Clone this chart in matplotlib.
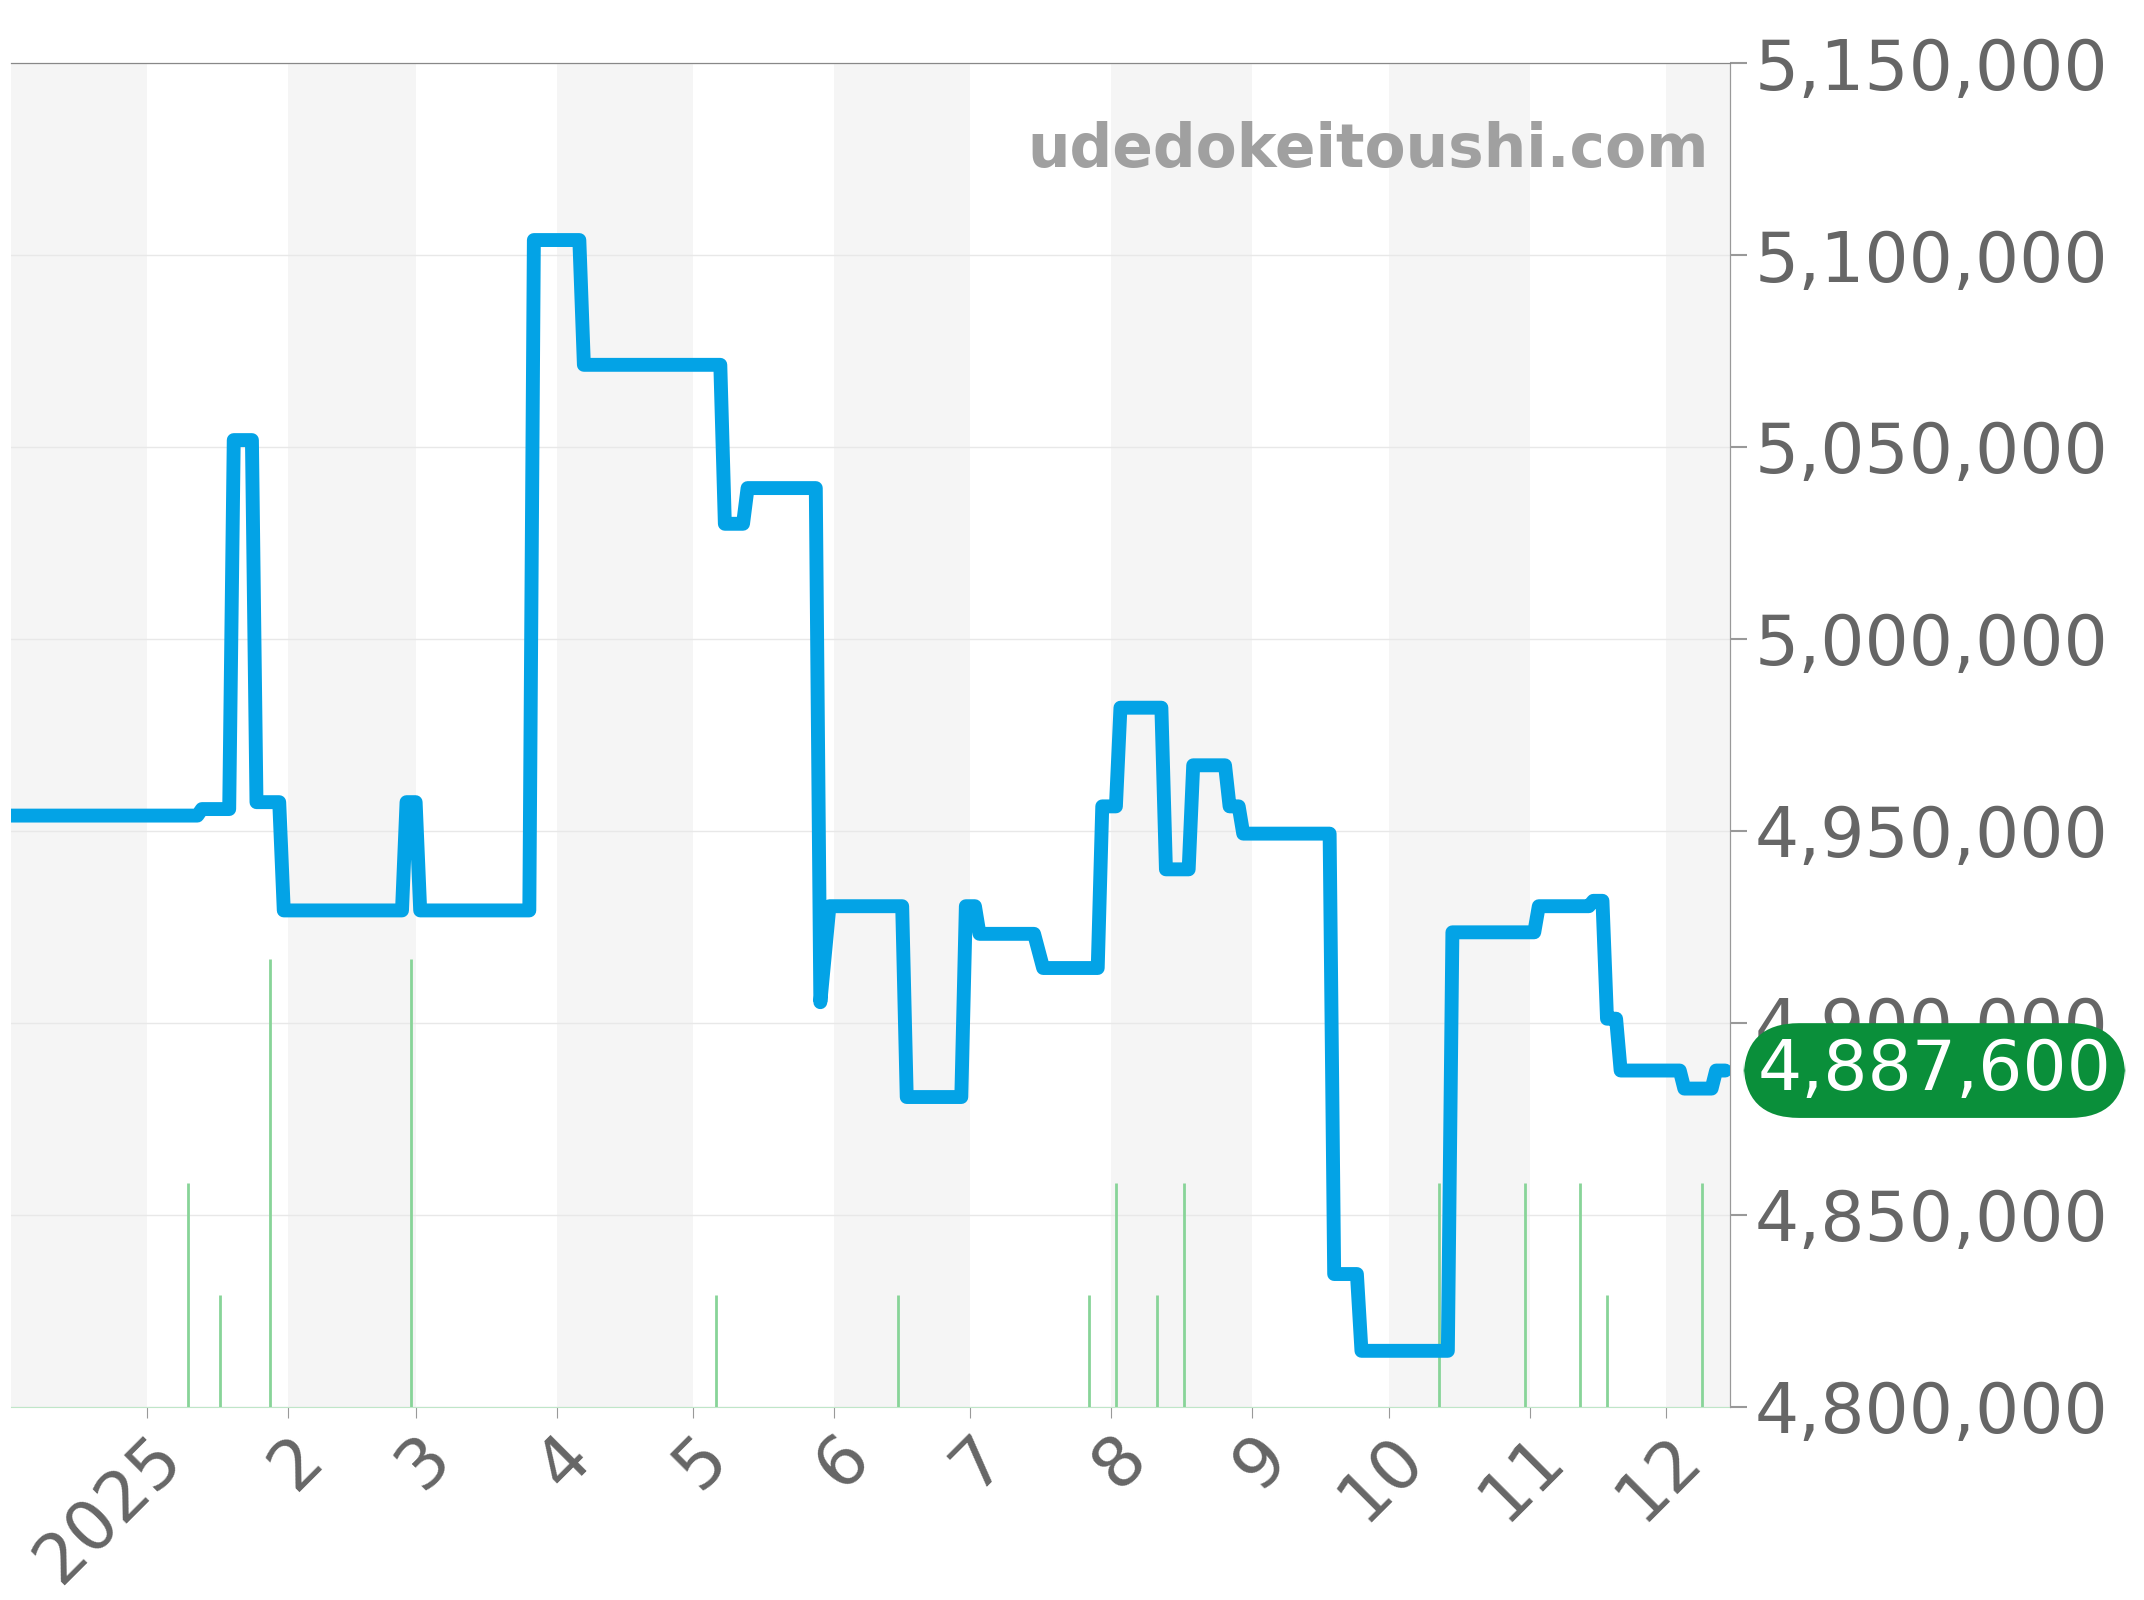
import matplotlib
matplotlib.use("Agg")
import matplotlib.pyplot as plt
import pandas as pd

dates = ["2024-12-02","2025-01-12","2025-01-13","2025-01-19","2025-01-20","2025-01-24","2025-01-25","2025-01-30",
 "2025-01-31","2025-02-26","2025-02-27","2025-03-01","2025-03-02","2025-03-26","2025-03-27","2025-04-06","2025-04-07",
 "2025-05-07","2025-05-08","2025-05-12","2025-05-13","2025-05-28","2025-05-29","2025-05-31","2025-06-16","2025-06-17",
 "2025-06-29","2025-06-30","2025-07-02","2025-07-03","2025-07-15","2025-07-17","2025-07-29","2025-07-30","2025-08-02",
 "2025-08-03","2025-08-12","2025-08-13","2025-08-18","2025-08-19","2025-08-26","2025-08-27","2025-08-29","2025-08-30",
 "2025-09-18","2025-09-19","2025-09-24","2025-09-25","2025-10-14","2025-10-15","2025-11-02","2025-11-03","2025-11-14",
 "2025-11-15","2025-11-17","2025-11-18","2025-11-20","2025-11-21","2025-12-04","2025-12-05","2025-12-11","2025-12-12","2025-12-14"]
prices = [4954000,4954000,4955700,4955700,5051800,5051800,4957500,4957500,
 4929300,4929300,4957500,4957500,4929300,4929300,5103900,5103900,5071400,
 5071400,5030000,5030000,5039300,5039300,4905400,4930400,4930400,4880700,
 4880700,4930400,4930400,4923200,4923200,4914300,4914300,4956400,4956400,
 4982100,4982100,4940000,4940000,4967100,4967100,4956400,4956400,4949300,
 4949300,4834600,4834600,4814600,4814600,4923600,4923600,4930400,4930400,
 4931800,4931800,4901100,4901100,4887600,4887600,4882900,4882900,4887600,4887600]
vol_dates = ["2025-01-10","2025-01-17","2025-01-28","2025-02-28","2025-05-06","2025-06-15","2025-07-27","2025-08-02",
 "2025-08-11","2025-08-17","2025-10-12","2025-10-31","2025-11-12","2025-11-18","2025-12-09"]
vol = [2,1,4,4,1,1,1,2,1,2,2,2,2,1,2]
month_labels = ["2025","2","3","4","5","6","7","8","9","10","11","12"]
yticks = [4800000,4850000,4900000,4950000,5000000,5050000,5100000,5150000]
last_price = 4887600

d = pd.to_datetime(dates)
vd = pd.to_datetime(vol_dates)
fig = plt.figure(figsize=(21.44,16), dpi=100)
ax = fig.add_axes([0.0051,0.1207,0.8017,0.8399])
xmin, xmax = pd.Timestamp("2024-12-02"), pd.Timestamp("2025-12-15")
months = pd.date_range("2024-12-01","2026-01-01",freq="MS")
for i in range(len(months)-1):
    if i % 2 == 0:
        ax.axvspan(months[i], months[i+1], color="#f5f5f5", zorder=0, lw=0)
ax.set_xlim(xmin, xmax)
ax.set_ylim(4800000, 5150000)
for y in yticks:
    ax.axhline(y, color="#e8e8e8", lw=1, zorder=1)

ax2 = ax.twinx()
ax2.set_ylim(0,12)
ax2.vlines(vd, 0, vol, color="#88d498", lw=2)
ax2.axis("off")

ax3 = ax.twinx()
ax3.set_ylim(4800000, 5150000)
ax3.plot(d, prices, color="#03a3e6", lw=10, solid_joinstyle="round", solid_capstyle="round", zorder=5)
ax3.set_xlim(xmin, xmax)
ax3.set_yticks(yticks)
ax3.set_yticklabels([f"{v:,}" for v in yticks], fontsize=50, color="#666666")
ax3.tick_params(axis="y", length=12, width=1.5, color="#999999", pad=6)
ax.set_yticks([])
ticks = pd.date_range("2025-01-01","2025-12-01",freq="MS")
ax.set_xticks(ticks)
ax.set_xticklabels(month_labels, rotation=45, fontsize=50, color="#666666", ha="right", rotation_mode="anchor")
ax.tick_params(axis="x", length=8, color="#999999")
for a in (ax, ax2, ax3):
    for s in ("left","bottom"):
        a.spines[s].set_visible(False)
    a.spines["top"].set_color("#888888")
    a.spines["right"].set_color("#999999")
ax.spines["bottom"].set_visible(True); ax.spines["bottom"].set_color("#bfe6c8")
ax3.text(0.988, 0.935, "udedokeitoushi.com", transform=ax.transAxes, ha="right", va="center",
         fontsize=43, fontweight="bold", color="#a0a0a0")
ax3.annotate(f"{last_price:,}", xy=(1.0, last_price), xycoords=("axes fraction","data"),
             xytext=(20,0), textcoords="offset points", ha="left", va="center", fontsize=50, color="white", zorder=10,
             bbox=dict(boxstyle="round,pad=0.2,rounding_size=0.8", fc="#0a8f3a", ec="none"))
fig.savefig("out.png", dpi=100)
